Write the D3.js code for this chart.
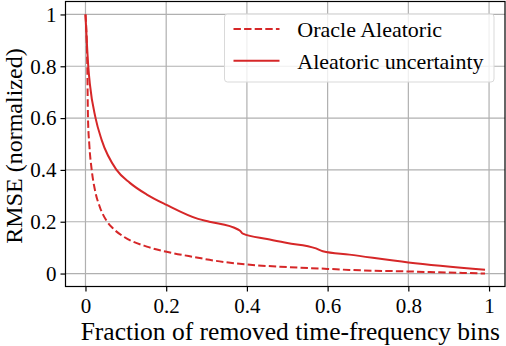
<!DOCTYPE html>
<html>
<head>
<meta charset="utf-8">
<script src="https://cdn.jsdelivr.net/npm/d3@7"></script>
<style>
  body { margin: 0; background: #fff; }
</style>
</head>
<body>
<div id="chart"></div>
<script>
const oracleX = [0, 0.0045, 0.0062, 0.0094, 0.0154, 0.0235, 0.036, 0.0525, 0.069, 0.094, 0.152, 0.201, 0.279, 0.307, 0.4, 0.5, 0.6, 0.654, 0.8, 0.9, 0.99];
const oracleY = [1.0, 0.8, 0.6, 0.5, 0.4, 0.322, 0.255, 0.203, 0.173, 0.143, 0.104, 0.084, 0.061, 0.053, 0.035, 0.025, 0.018, 0.014, 0.008, 0.004, 0.0];

const aleaX = [0, 0.0069, 0.011, 0.025, 0.040, 0.077, 0.110, 0.152, 0.201, 0.279, 0.307, 0.378, 0.383, 0.39, 0.45, 0.5, 0.571, 0.588, 0.654, 0.8, 0.99];
const aleaY = [1.0, 0.8, 0.73, 0.6, 0.516, 0.40, 0.35, 0.305, 0.265, 0.211, 0.2, 0.17, 0.165, 0.154, 0.133, 0.118, 0.097, 0.086, 0.073, 0.043, 0.015];

const xTicks = [0, 0.2, 0.4, 0.6, 0.8, 1];
const yTicks = [0, 0.2, 0.4, 0.6, 0.8, 1];
const seriesNames = ["Oracle Aleatoric", "Aleatoric uncertainty"];

const W = 506, H = 346;
const margin = {top: 1.5, right: 1, bottom: 59.5, left: 65.5};
const width = W - margin.left - margin.right;
const height = H - margin.top - margin.bottom;
const red = "#d62728";
const dash = "7.4,3.2";
const serif = "'Liberation Serif'";

const svg = d3.select("#chart")
    .append("svg")
    .attr("width", W)
    .attr("height", H)
    .append("g")
    .attr("transform", `translate(${margin.left},${margin.top})`);

const x = d3.scaleLinear().domain([-0.0495, 1.0395]).range([0, width]);
const y = d3.scaleLinear().domain([-0.05, 1.05]).range([height, 0]);

// grid
svg.append("g")
    .selectAll("line")
    .data(xTicks)
    .enter()
    .append("line")
    .attr("x1", d => x(d)).attr("x2", d => x(d))
    .attr("y1", 0).attr("y2", height)
    .attr("stroke", "#b0b0b0").attr("stroke-width", 1.2);

svg.append("g")
    .selectAll("line")
    .data(yTicks)
    .enter()
    .append("line")
    .attr("x1", 0).attr("x2", width)
    .attr("y1", d => y(d)).attr("y2", d => y(d))
    .attr("stroke", "#b0b0b0").attr("stroke-width", 1.2);

// axes
const fmt = d3.format("~g");
const xAxis = svg.append("g")
    .attr("transform", `translate(0,${height})`)
    .call(d3.axisBottom(x).tickValues(xTicks).tickFormat(fmt).tickSize(5).tickPadding(6.5));
const yAxis = svg.append("g")
    .call(d3.axisLeft(y).tickValues(yTicks).tickFormat(fmt).tickSize(5).tickPadding(4));

[xAxis, yAxis].forEach(a => {
    a.attr("font-family", null).attr("font-size", null);
    a.select(".domain").remove();
    a.selectAll("line").attr("stroke", "#000").attr("stroke-width", 1.2);
    a.selectAll("text")
        .style("font-family", serif)
        .style("font-size", "21px")
        .attr("fill", "#000");
});

// lines
const pts = (xs, ys) => xs.map((v, i) => [v, ys[i]]);
const line = d3.line()
    .x(d => x(d[0]))
    .y(d => y(d[1]))
    .curve(d3.curveMonotoneX);

svg.append("path")
    .datum(pts(oracleX, oracleY))
    .attr("fill", "none")
    .attr("stroke", red)
    .attr("stroke-width", 2)
    .attr("stroke-dasharray", dash)
    .attr("d", line);

svg.append("path")
    .datum(pts(aleaX, aleaY))
    .attr("fill", "none")
    .attr("stroke", red)
    .attr("stroke-width", 2)
    .attr("d", line);

// frame
svg.append("rect")
    .attr("width", width)
    .attr("height", height)
    .attr("fill", "none")
    .attr("stroke", "#000")
    .attr("stroke-width", 1.2);

// labels
svg.append("text")
    .attr("x", width / 2 + 5)
    .attr("y", height + 53)
    .attr("text-anchor", "middle")
    .style("font-family", serif)
    .style("font-size", "25.5px")
    .text("Fraction of removed time-frequency bins");

svg.append("text")
    .attr("x", -height / 2 - 2)
    .attr("y", -43.5)
    .attr("transform", "rotate(-90)")
    .attr("text-anchor", "middle")
    .style("font-family", serif)
    .style("font-size", "24px")
    .text("RMSE (normalized)");

// legend
const legend = svg.append("g")
    .attr("transform", `translate(${224.5 - margin.left},${14 - margin.top})`);

legend.append("rect")
    .attr("width", 269.5)
    .attr("height", 68)
    .attr("rx", 3)
    .attr("fill", "#fff")
    .attr("fill-opacity", 0.8)
    .attr("stroke", "#d9d9d9")
    .attr("stroke-width", 1);

const items = legend.selectAll(".item")
    .data(seriesNames)
    .enter()
    .append("g")
    .attr("transform", (d, i) => `translate(0,${15 + i * 31.7})`);

items.append("line")
    .attr("x1", 9).attr("x2", 55)
    .attr("stroke", red)
    .attr("stroke-width", 2)
    .attr("stroke-dasharray", (d, i) => i === 0 ? dash : null);

items.append("text")
    .attr("x", 72.8)
    .attr("y", 8)
    .style("font-family", serif)
    .style("font-size", "22px")
    .text(d => d);
</script>
</body>
</html>
